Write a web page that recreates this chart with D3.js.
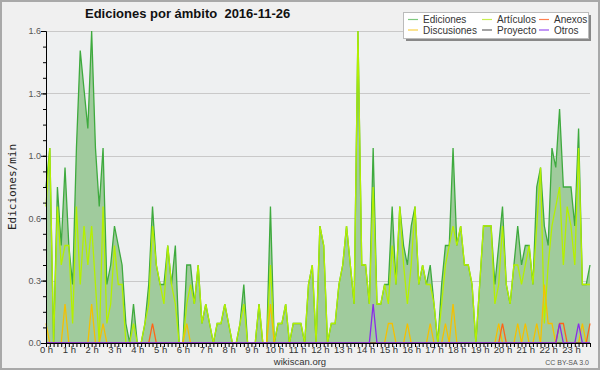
<!DOCTYPE html>
<html>
<head>
<meta charset="utf-8">
<script src="https://cdn.jsdelivr.net/npm/d3@7"></script>
<style>
  body { margin: 0; background: #fff; }
  #chart { width: 600px; height: 370px; }
</style>
</head>
<body>
<div id="chart"></div>
<script>
// ===== EDICIONES POR AMBITO (wikiscan, 10 min slots) =====

// hour labels on the x axis (one every 6 slots)
const hourLabels = ['0 h','1 h','2 h','3 h','4 h','5 h','6 h','7 h','8 h','9 h','10 h','11 h',
  '12 h','13 h','14 h','15 h','16 h','17 h','18 h','19 h','20 h','21 h','22 h','23 h'];

// y axis ticks and their printed labels
const yTicks = [0, 0.32, 0.64, 0.96, 1.28, 1.6];
const yTickLabels = ['0.0', '0.3', '0.6', '1.0', '1.3', '1.6'];

// edits per minute, one value per 10 min slot (144 slots)
const ediciones = [
  0.8,1.0,0,0.8,0.5,0.9,0.5,0.3,1.0,1.5,1.3,1.1,
  1.6,1.0,0.7,1.0,0.3,0.4,0.6,0.5,0.4,0.1,0,0.2,
  0,0,0.1,0.3,0.7,0.4,0.3,0.3,0.5,0.3,0.5,0,
  0,0.4,0.4,0.2,0.4,0.1,0.2,0.1,0,0.1,0.1,0.2,
  0.1,0,0,0.1,0.3,0,0,0,0.2,0,0,0.7,
  0,0.1,0.1,0.2,0,0.1,0.1,0.1,0,0.3,0.4,0,
  0.6,0.5,0,0.1,0.1,0.3,0.4,0.6,0.4,0.2,1.6,0.4,
  0.4,0.2,1.0,0.2,0.2,0.3,0.3,0.7,0.3,0.7,0.5,0.4,
  0.6,0.7,0.3,0.4,0.3,0.4,0.2,0,0.3,0.5,0.5,1.0,
  0.5,0.6,0.4,0.4,0.3,0,0.3,0.6,0.6,0.6,0.3,0.5,
  0.7,0.3,0.2,0.4,0.6,0.4,0.5,0.5,0.3,0.8,0.9,0.6,
  0.5,1.0,0.9,1.2,0.8,0.8,0.8,0.6,1.1,0.3,0.3,0.4
];

const articulos = [
  0.7,1.0,0,0.7,0.4,0.5,0.5,0.1,0.7,0.3,0.6,0.4,
  0.6,0.3,0,0.7,0.1,0.2,0.5,0.3,0.3,0,0,0.1,
  0,0,0.1,0.2,0.6,0.4,0.3,0.2,0.5,0.3,0.2,0,
  0,0.2,0.3,0.2,0.4,0.1,0.2,0.1,0,0.1,0.1,0.2,
  0.1,0,0,0.1,0.2,0,0,0,0.2,0,0,0.4,
  0,0.1,0.1,0.2,0,0.1,0.1,0.1,0,0.3,0.4,0,
  0.6,0.5,0,0.1,0.1,0.3,0.4,0.6,0.4,0.2,1.6,0.4,
  0.4,0.2,0.8,0.2,0.2,0.3,0.2,0.5,0.3,0.7,0.4,0.2,
  0.4,0.7,0.3,0.4,0.3,0.3,0.2,0,0.2,0.4,0.5,0.6,
  0.5,0.6,0.4,0.4,0.3,0,0.3,0.6,0.6,0.6,0.2,0.3,
  0.6,0.3,0.2,0.4,0.4,0.3,0.4,0.5,0.3,0.6,0.9,0.1,
  0.4,0.6,0.7,0.8,0.4,0.7,0.6,0.4,1.0,0.3,0.3,0.3
];

const discusiones = [
  0.1,0,0,0,0,0.2,0,0,0,0,0,0,
  0.2,0,0,0.1,0,0,0,0,0,0,0,0,
  0,0,0,0,0,0,0,0,0,0,0,0,
  0,0.1,0,0,0,0,0,0,0,0,0,0,
  0,0,0,0,0,0,0,0,0,0,0,0.2,
  0,0,0,0,0,0,0,0,0,0,0,0,
  0,0,0,0,0,0,0,0,0,0,0,0,
  0,0,0,0,0,0,0.1,0.1,0,0,0,0.1,
  0,0,0,0,0,0.1,0,0,0,0.1,0,0.2,
  0,0,0,0,0,0,0,0,0,0,0,0.1,
  0,0,0,0,0.1,0,0.1,0,0,0.1,0,0.3,
  0.1,0.1,0,0,0,0,0,0,0,0.1,0,0
];

const anexos = [
  0,0,0,0,0,0,0,0,0,0,0,0,
  0,0,0,0,0,0,0,0,0,0,0,0,
  0,0,0,0,0.1,0,0,0,0,0,0,0,
  0,0,0,0,0,0,0,0,0,0,0,0,
  0,0,0,0,0,0,0,0,0,0,0,0,
  0,0,0,0,0,0,0,0,0,0,0,0,
  0,0,0,0,0,0,0,0,0,0,0,0,
  0,0,0,0,0,0,0,0,0,0,0,0,
  0,0,0,0,0,0,0,0,0,0,0,0,
  0,0,0,0,0,0,0,0,0,0,0,0,
  0.1,0,0,0,0,0,0,0,0,0,0,0,
  0,0,0,0.1,0.1,0,0,0,0,0,0,0.1
];

const proyecto = [
  0,0,0,0,0,0,0,0,0,0,0,0,
  0,0,0,0,0,0,0,0,0,0,0,0,
  0,0,0,0,0,0,0,0,0,0,0,0,
  0,0,0,0,0,0,0,0,0,0,0,0,
  0,0,0,0,0,0,0,0,0,0,0,0,
  0,0,0,0,0,0,0,0,0,0,0,0,
  0,0,0,0,0,0,0,0,0,0,0,0,
  0,0,0,0,0,0,0,0,0,0,0,0,
  0,0,0,0,0,0,0,0,0,0,0,0,
  0,0,0,0,0,0,0,0,0,0,0,0,
  0,0,0,0,0,0,0,0,0,0,0,0,
  0,0,0,0,0,0,0,0,0,0,0,0
];

const otros = [
  0,0,0,0,0,0,0,0,0,0,0,0,
  0,0,0,0,0,0,0,0,0,0,0,0,
  0,0,0,0,0,0,0,0,0,0,0,0,
  0,0,0,0,0,0,0,0,0,0,0,0,
  0,0,0,0,0,0,0,0,0,0,0,0,
  0,0,0,0,0,0,0,0,0,0,0,0,
  0,0,0,0,0,0,0,0,0,0,0,0,
  0,0,0.2,0,0,0,0,0,0,0,0,0,
  0,0,0,0,0,0,0,0,0,0,0,0,
  0,0,0,0,0,0,0,0,0,0,0,0,
  0,0,0,0,0,0,0,0,0,0,0,0,
  0,0,0,0.1,0,0,0,0,0.1,0,0,0
];

const W = 600, H = 370;
const margin = { top: 31, right: 10, bottom: 27, left: 46 };
const FONT = "'Liberation Sans', Arial, sans-serif";

const svg = d3.select('#chart').append('svg')
  .attr('width', W)
  .attr('height', H);

// outer frame
svg.append('rect')
  .attr('x', 1).attr('y', 1)
  .attr('width', W - 2).attr('height', H - 2)
  .attr('fill', '#f0f0f0')
  .attr('stroke', '#a9a9a9')
  .attr('stroke-width', 2);

const x = d3.scaleLinear()
  .domain([0, ediciones.length - 1])
  .range([margin.left, W - margin.right]);

const y = d3.scaleLinear()
  .domain([0, 1.6])
  .range([H - margin.bottom, margin.top]);

// plot background
svg.append('rect')
  .attr('x', x(0)).attr('y', y(1.6))
  .attr('width', x(143) - x(0)).attr('height', y(0) - y(1.6))
  .attr('fill', '#eef0f1');

// grid
svg.append('g')
  .selectAll('line')
  .data(yTicks.slice(1))
  .join('line')
  .attr('x1', x(0)).attr('x2', x(143))
  .attr('y1', d => Math.round(y(d)) + 0.5)
  .attr('y2', d => Math.round(y(d)) + 0.5)
  .attr('stroke', '#c9c9c9')
  .attr('stroke-width', 1);

// total area
svg.append('path')
  .datum(ediciones)
  .attr('fill', '#a0cb9d')
  .attr('d', d3.area()
    .x((d, i) => x(i))
    .y0(y(0))
    .y1(d => y(d)));

const series = [
  { name: 'Ediciones', values: ediciones, color: '#3eaa3e', key: '#7fc97f' },
  { name: 'Artículos', values: articulos, color: '#b4f000', key: '#c8ee50' },
  { name: 'Discusiones', values: discusiones, color: '#f5c000', key: '#f8d048' },
  { name: 'Anexos', values: anexos, color: '#ff6418', key: '#ff8050' },
  { name: 'Proyecto', values: proyecto, color: '#555555', key: '#666666' },
  { name: 'Otros', values: otros, color: '#8a2be8', key: '#9a50f0' }
];

const line = d3.line()
  .x((d, i) => x(i))
  .y(d => y(d));

series.forEach(s => {
  svg.append('path')
    .datum(s.values)
    .attr('fill', 'none')
    .attr('stroke', s.color)
    .attr('stroke-width', 1.3)
    .attr('stroke-linejoin', 'miter')
    .attr('d', line);
});

// x axis: a tick on every slot, a label every hour
const xAxis = d3.axisBottom(x)
  .tickValues(d3.range(0, ediciones.length))
  .tickSize(4)
  .tickFormat(d => d % 6 === 0 ? hourLabels[d / 6] : '');

const gx = svg.append('g')
  .attr('transform', `translate(0, ${y(0)})`)
  .call(xAxis);
gx.select('.domain').attr('stroke', '#000');
gx.selectAll('.tick line').attr('stroke', '#000');
gx.selectAll('text')
  .attr('y', 3)
  .attr('fill', '#333')
  .style('font-size', '9.5px')
  .style('font-family', FONT);

// y axis: minor ticks every 0.08, labels on the majors
const yMinor = d3.axisLeft(y)
  .tickValues(d3.range(0, 21).map(k => k * 0.08))
  .tickSize(3)
  .tickFormat('');
svg.append('g')
  .attr('transform', `translate(${x(0)}, 0)`)
  .call(yMinor)
  .call(g => g.select('.domain').remove());

const yAxis = d3.axisLeft(y)
  .tickValues(yTicks)
  .tickSize(5)
  .tickFormat((d, i) => yTickLabels[i]);
const gy = svg.append('g')
  .attr('transform', `translate(${x(0)}, 0)`)
  .call(yAxis);
gy.select('.domain').attr('stroke', '#000');
gy.selectAll('text')
  .attr('x', -5)
  .attr('fill', '#555')
  .style('font-size', '9px')
  .style('font-family', FONT);

// y axis title
svg.append('text')
  .attr('transform', `translate(16, ${(y(0) + y(1.6)) / 2}) rotate(-90)`)
  .attr('text-anchor', 'middle')
  .attr('font-size', '11px')
  .attr('font-family', "'DejaVu Sans Mono', monospace")
  .attr('fill', '#222')
  .text('Ediciones/min');

// title
svg.append('text')
  .attr('x', 85)
  .attr('y', 18)
  .attr('font-size', '13px')
  .attr('font-weight', 'bold')
  .attr('font-family', FONT)
  .attr('fill', '#111')
  .attr('xml:space', 'preserve')
  .text('Ediciones por ámbito  2016-11-26');

// legend
const lg = svg.append('g').attr('transform', 'translate(403, 12)');
lg.append('rect')
  .attr('x', 3).attr('y', 3)
  .attr('width', 185).attr('height', 26)
  .attr('fill', '#888');
lg.append('rect')
  .attr('x', 0.5).attr('y', 0.5)
  .attr('width', 185).attr('height', 26)
  .attr('fill', '#fff')
  .attr('stroke', '#bbb');

const legendPos = [
  { col: 0, row: 0 }, { col: 1, row: 0 }, { col: 0, row: 1 },
  { col: 2, row: 0 }, { col: 1, row: 1 }, { col: 2, row: 1 }
];
const colX = [5, 79, 136];
series.forEach((s, i) => {
  const p = legendPos[i];
  const gx0 = colX[p.col], gy0 = 7.5 + p.row * 10.5;
  lg.append('line')
    .attr('x1', gx0).attr('x2', gx0 + 10)
    .attr('y1', gy0).attr('y2', gy0)
    .attr('stroke', s.key)
    .attr('stroke-width', 1.2);
  lg.append('text')
    .attr('x', gx0 + 15)
    .attr('y', gy0 + 3.5)
    .attr('font-size', '10px')
    .attr('font-family', FONT)
    .attr('fill', '#333')
    .text(s.name);
});

// footer
svg.append('text')
  .attr('x', 300)
  .attr('y', 365)
  .attr('text-anchor', 'middle')
  .attr('font-size', '9.5px')
  .attr('font-family', FONT)
  .attr('fill', '#333')
  .text('wikiscan.org');

svg.append('text')
  .attr('x', 589)
  .attr('y', 365)
  .attr('text-anchor', 'end')
  .attr('font-size', '7px')
  .attr('font-family', FONT)
  .attr('fill', '#555')
  .text('CC BY-SA 3.0');
</script>
</body>
</html>
